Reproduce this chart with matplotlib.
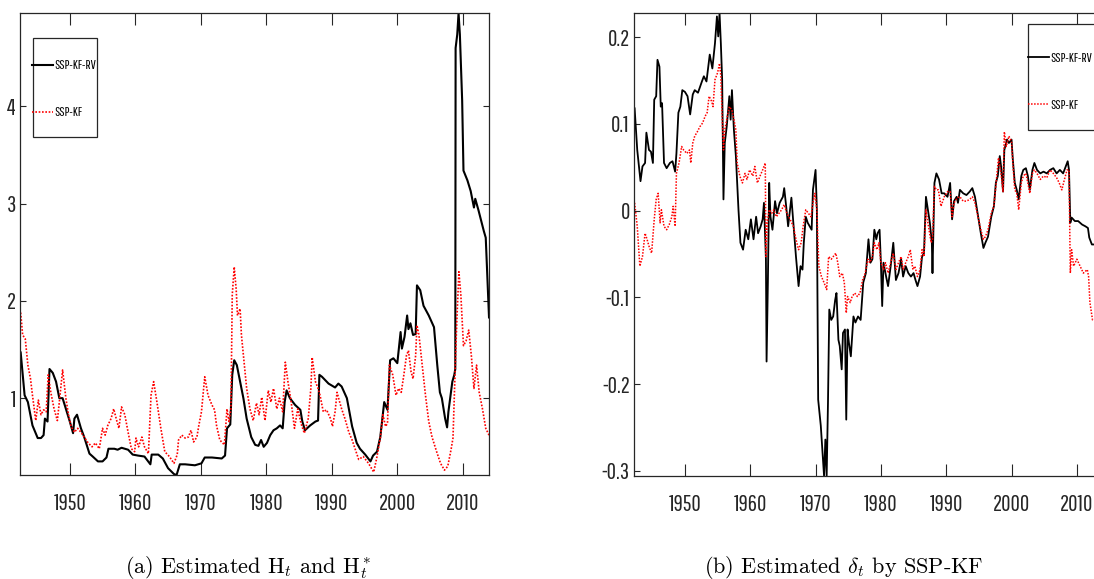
import numpy as np
import matplotlib
matplotlib.use("Agg")
import matplotlib.pyplot as plt
from matplotlib import font_manager
from matplotlib.patches import Rectangle

# narrow sans for ticks and legend (first one that is installed)
installed = {f.name for f in font_manager.fontManager.ttflist}
narrow_choices = ['Pathway Gothic One', 'Sofia Sans Extra Condensed', 'Saira Extra Condensed',
                  'Roboto Condensed', 'Liberation Sans Narrow', 'Arial Narrow',
                  'IBM Plex Sans Condensed']
NARROW = [n for n in narrow_choices if n in installed][:1] + ['DejaVu Sans']

plt.rcParams['font.family'] = NARROW
plt.rcParams['mathtext.fontset'] = 'cm'

# ---- panel (a): estimated H_t (SSP-KF-RV) and H_t* (SSP-KF) ----
years_h_rv = [1942.5, 1943.1, 1943.6, 1944.3, 1945.1, 1945.6, 1946.0, 1946.2, 1946.6, 1946.9,
              1947.4, 1947.9, 1948.4, 1948.9, 1949.4, 1950.0, 1950.5, 1950.7, 1951.1, 1951.7,
              1952.2, 1953.0, 1953.5, 1954.3, 1955.0, 1955.6, 1955.9, 1956.8, 1957.3, 1957.9,
              1958.9, 1959.6, 1960.4, 1961.4, 1962.3, 1962.5, 1963.5, 1964.2, 1965.0, 1965.9,
              1966.3, 1966.8, 1967.6, 1969.1, 1970.1, 1970.6, 1971.7, 1973.2, 1973.7, 1974.0,
              1974.5, 1974.8, 1975.1, 1975.5, 1976.0, 1976.5, 1977.0, 1977.7, 1978.3, 1978.8,
              1979.2, 1979.6, 1980.1, 1980.6, 1981.1, 1981.6, 1982.1, 1982.5, 1982.8, 1983.1,
              1983.6, 1984.4, 1985.2, 1985.5, 1985.9, 1986.7, 1987.5, 1987.9, 1988.1, 1988.5,
              1989.5, 1990.5, 1991.0, 1991.5, 1992.3, 1993.1, 1993.8, 1994.3, 1995.1, 1995.9,
              1996.3, 1996.9, 1997.4, 1998.0, 1998.5, 1998.9, 1999.4, 2000.0, 2000.5, 2000.7,
              2001.1, 2001.5, 2001.7, 2002.0, 2002.4, 2002.8, 2003.0, 2003.5, 2004.0, 2004.8,
              2005.6, 2006.1, 2006.5, 2006.8, 2007.3, 2007.6, 2007.8, 2008.4, 2008.7, 2008.85,
              2008.9, 2009.15, 2009.35, 2009.55, 2009.9, 2010.1, 2010.7, 2011.2, 2011.7, 2011.9,
              2012.4, 2013.2, 2013.5, 2014.0]
h_rv = [1.47, 1.03, 0.96, 0.72, 0.59, 0.59, 0.62, 0.79, 0.76, 1.30,
        1.26, 1.17, 1.00, 1.00, 0.89, 0.76, 0.64, 0.79, 0.83, 0.69,
        0.60, 0.43, 0.40, 0.35, 0.35, 0.39, 0.48, 0.48, 0.47, 0.49,
        0.47, 0.42, 0.41, 0.40, 0.32, 0.42, 0.42, 0.38, 0.28, 0.22,
        0.21, 0.32, 0.32, 0.31, 0.33, 0.39, 0.39, 0.38, 0.41, 0.69,
        0.73, 1.24, 1.39, 1.34, 1.17, 1.00, 0.79, 0.60, 0.52, 0.51,
        0.57, 0.50, 0.54, 0.62, 0.67, 0.69, 0.72, 0.69, 0.96, 1.08,
        1.00, 0.93, 0.88, 0.76, 0.67, 0.72, 0.76, 0.77, 1.24, 1.22,
        1.15, 1.11, 1.15, 1.12, 1.00, 0.71, 0.54, 0.48, 0.42, 0.35,
        0.41, 0.45, 0.60, 0.96, 0.88, 1.39, 1.41, 1.36, 1.68, 1.51,
        1.63, 1.85, 1.71, 1.77, 1.65, 1.66, 2.16, 2.11, 1.95, 1.85,
        1.73, 1.34, 1.06, 1.00, 0.79, 0.70, 0.86, 1.17, 1.24, 1.30,
        4.60, 4.74, 4.96, 4.74, 4.06, 3.34, 3.24, 3.13, 2.96, 3.05,
        2.93, 2.72, 2.65, 1.83]

years_h_kf = [1942.5, 1942.8, 1943.2, 1943.6, 1944.0, 1944.3, 1944.8, 1945.2, 1945.6, 1946.0,
              1946.4, 1946.7, 1947.1, 1947.6, 1948.1, 1948.4, 1948.9, 1949.4, 1949.8, 1950.2,
              1950.7, 1951.2, 1951.7, 1952.2, 1952.8, 1953.4, 1953.9, 1954.5, 1955.0, 1955.4,
              1955.8, 1956.3, 1956.7, 1957.2, 1957.5, 1957.9, 1958.4, 1958.9, 1959.4, 1959.9,
              1960.1, 1960.5, 1961.0, 1961.4, 1962.0, 1962.4, 1962.8, 1963.3, 1963.9, 1964.5,
              1965.2, 1965.9, 1966.4, 1966.6, 1967.1, 1967.6, 1968.1, 1968.5, 1968.9, 1969.4,
              1969.7, 1970.1, 1970.6, 1971.1, 1971.7, 1972.1, 1972.4, 1972.9, 1973.6, 1974.0,
              1974.3, 1974.6, 1974.8, 1975.1, 1975.4, 1975.6, 1976.0, 1976.2, 1976.6, 1977.0,
              1977.5, 1978.0, 1978.5, 1978.9, 1979.3, 1979.8, 1980.3, 1980.7, 1981.1, 1981.6,
              1982.0, 1982.5, 1982.9, 1983.3, 1983.8, 1984.3, 1984.8, 1985.3, 1985.8, 1986.4,
              1986.8, 1987.0, 1987.5, 1987.9, 1988.2, 1988.7, 1989.2, 1989.8, 1990.1, 1990.5,
              1990.8, 1991.2, 1991.5, 1992.0, 1992.6, 1993.1, 1993.6, 1994.1, 1994.8, 1995.6,
              1996.4, 1996.9, 1997.4, 1997.8, 1998.2, 1998.5, 1998.8, 1999.3, 1999.8, 2000.2,
              2000.6, 2001.0, 2001.4, 2001.7, 2002.1, 2002.4, 2002.8, 2003.0, 2003.3, 2003.8,
              2004.3, 2004.8, 2005.3, 2006.0, 2006.6, 2007.2, 2007.7, 2008.2, 2008.5, 2008.9,
              2009.1, 2009.4, 2009.7, 2010.1, 2010.5, 2010.9, 2011.3, 2011.7, 2012.1, 2012.5,
              2013.0, 2013.5, 2014.0]
h_kf = [1.88, 1.65, 1.61, 1.34, 1.20, 1.03, 0.77, 0.98, 0.83, 0.88,
        0.86, 1.24, 1.06, 0.89, 0.77, 0.96, 1.29, 1.00, 0.83, 0.71,
        0.65, 0.69, 0.65, 0.60, 0.54, 0.50, 0.54, 0.48, 0.69, 0.62,
        0.72, 0.79, 0.89, 0.76, 0.69, 0.91, 0.83, 0.65, 0.48, 0.45,
        0.59, 0.50, 0.60, 0.50, 0.43, 1.03, 1.17, 0.96, 0.69, 0.45,
        0.40, 0.33, 0.42, 0.57, 0.62, 0.59, 0.60, 0.67, 0.55, 0.60,
        0.72, 0.86, 1.22, 1.03, 0.93, 0.88, 0.72, 0.57, 0.52, 0.89,
        0.76, 0.89, 2.06, 2.35, 2.12, 1.85, 1.92, 1.65, 1.37, 1.10,
        0.89, 0.77, 0.95, 0.83, 1.01, 0.77, 1.08, 0.96, 1.10, 0.89,
        1.00, 0.86, 1.37, 1.17, 0.96, 0.69, 0.89, 0.74, 0.64, 0.79,
        1.10, 1.42, 1.17, 1.10, 1.03, 0.86, 0.88, 0.79, 0.71, 0.86,
        1.06, 0.96, 0.89, 0.79, 0.65, 0.57, 0.47, 0.37, 0.40, 0.33,
        0.24, 0.40, 0.59, 0.83, 0.71, 0.74, 1.34, 1.24, 1.03, 1.10,
        1.06, 1.24, 1.44, 1.49, 1.27, 1.20, 1.44, 1.75, 1.65, 1.34,
        1.03, 0.76, 0.60, 0.45, 0.33, 0.26, 0.30, 0.47, 0.59, 1.44,
        1.82, 2.30, 2.06, 1.54, 1.59, 1.70, 1.44, 1.10, 1.34, 1.06,
        0.89, 0.69, 0.62]

# ---- panel (b): estimated delta_t ----
years_d_rv = [1942.3, 1942.7, 1943.2, 1943.5, 1943.9, 1944.1, 1944.5, 1944.8, 1945.1, 1945.3,
              1945.6, 1945.8, 1946.1, 1946.3, 1946.5, 1946.8, 1947.2, 1947.7, 1948.1, 1948.5,
              1948.7, 1949.0, 1949.3, 1949.6, 1950.0, 1950.4, 1950.8, 1951.2, 1951.5, 1952.0,
              1952.6, 1952.9, 1953.3, 1953.8, 1954.2, 1954.6, 1954.9, 1955.1, 1955.3, 1955.5,
              1955.7, 1955.9, 1956.1, 1956.4, 1956.8, 1957.0, 1957.2, 1957.5, 1957.8, 1958.2,
              1958.5, 1958.9, 1959.3, 1959.7, 1960.1, 1960.5, 1960.9, 1961.2, 1961.6, 1961.9,
              1962.1, 1962.4, 1962.5, 1962.7, 1962.9, 1963.1, 1963.4, 1963.8, 1964.1, 1964.5,
              1965.0, 1965.2, 1965.5, 1965.8, 1966.3, 1966.6, 1967.0, 1967.4, 1967.7, 1968.0,
              1968.2, 1968.5, 1968.8, 1969.1, 1969.4, 1969.6, 1970.0, 1970.2, 1970.4, 1970.8,
              1971.2, 1971.3, 1971.5, 1971.7, 1971.9, 1972.1, 1972.4, 1972.7, 1973.0, 1973.2,
              1973.5, 1973.7, 1974.0, 1974.2, 1974.5, 1974.7, 1974.9, 1975.1, 1975.4, 1975.8,
              1976.1, 1976.5, 1976.9, 1977.3, 1977.7, 1978.1, 1978.4, 1978.7, 1979.0, 1979.3,
              1979.5, 1979.8, 1980.0, 1980.2, 1980.4, 1980.8, 1981.1, 1981.5, 1981.9, 1982.3,
              1982.7, 1983.1, 1983.4, 1983.8, 1984.2, 1984.6, 1985.0, 1985.3, 1985.6, 1986.0,
              1986.3, 1986.6, 1986.9, 1987.2, 1987.5, 1987.8, 1987.9, 1988.2, 1988.5, 1988.9,
              1989.3, 1989.7, 1990.2, 1990.6, 1990.9, 1991.2, 1991.6, 1991.8, 1992.1, 1992.6,
              1993.1, 1993.6, 1994.0, 1994.4, 1994.9, 1995.3, 1995.7, 1996.0, 1996.4, 1996.9,
              1997.3, 1997.6, 1997.9, 1998.2, 1998.4, 1998.7, 1998.9, 1999.3, 1999.6, 2000.0,
              2000.2, 2000.5, 2000.8, 2001.1, 2001.5, 2001.8, 2002.2, 2002.5, 2002.8, 2003.2,
              2003.5, 2003.9, 2004.4, 2004.9, 2005.4, 2005.9, 2006.4, 2006.9, 2007.4, 2007.9,
              2008.3, 2008.6, 2008.8, 2009.0, 2009.2, 2009.7, 2010.2, 2010.8, 2011.3, 2011.7,
              2011.9, 2012.3, 2012.7]
delta_rv = [0.118, 0.070, 0.034, 0.051, 0.055, 0.090, 0.070, 0.068, 0.055, 0.128,
            0.132, 0.174, 0.166, 0.120, 0.124, 0.055, 0.049, 0.055, 0.057, 0.045,
            0.066, 0.113, 0.120, 0.139, 0.137, 0.132, 0.111, 0.134, 0.139, 0.136,
            0.149, 0.155, 0.149, 0.180, 0.164, 0.193, 0.224, 0.201, 0.228, 0.193,
            0.151, 0.013, 0.078, 0.097, 0.132, 0.105, 0.139, 0.093, 0.063, 0.001,
            -0.037, -0.045, -0.022, -0.033, -0.010, -0.033, -0.007, -0.026, -0.018, -0.010,
            0.009, -0.056, -0.174, -0.083, 0.032, -0.007, -0.022, 0.011, -0.003, 0.009,
            0.016, 0.026, 0.005, -0.018, 0.015, -0.014, -0.053, -0.087, -0.064, -0.068,
            -0.037, -0.007, -0.014, -0.018, -0.022, 0.024, 0.047, 0.001, -0.218, -0.248,
            -0.295, -0.306, -0.264, -0.306, -0.222, -0.114, -0.126, -0.122, -0.103, -0.095,
            -0.149, -0.156, -0.183, -0.141, -0.137, -0.241, -0.137, -0.152, -0.168, -0.122,
            -0.129, -0.122, -0.126, -0.083, -0.072, -0.033, -0.060, -0.056, -0.022, -0.033,
            -0.026, -0.022, -0.060, -0.110, -0.060, -0.076, -0.087, -0.064, -0.037, -0.080,
            -0.072, -0.056, -0.076, -0.064, -0.072, -0.076, -0.072, -0.080, -0.087, -0.076,
            -0.053, -0.049, 0.016, 0.001, -0.014, -0.037, -0.072, 0.032, 0.043, 0.036,
            0.020, 0.020, 0.016, 0.032, -0.010, 0.011, 0.016, 0.009, 0.024, 0.020,
            0.018, 0.022, 0.026, 0.016, -0.007, -0.026, -0.043, -0.037, -0.030, -0.007,
            0.005, 0.032, 0.040, 0.063, 0.051, 0.022, 0.070, 0.082, 0.078, 0.082,
            0.059, 0.032, 0.024, 0.013, 0.040, 0.047, 0.049, 0.040, 0.024, 0.047,
            0.055, 0.047, 0.043, 0.045, 0.043, 0.047, 0.049, 0.043, 0.047, 0.043,
            0.051, 0.057, 0.047, -0.014, -0.008, -0.012, -0.012, -0.016, -0.018, -0.020,
            -0.031, -0.039, -0.039]

years_d_kf = [1942.3, 1942.7, 1943.1, 1943.5, 1943.9, 1944.2, 1944.5, 1944.9, 1945.3, 1945.6,
              1945.9, 1946.2, 1946.4, 1946.8, 1947.2, 1947.6, 1948.0, 1948.2, 1948.5, 1948.7,
              1949.1, 1949.5, 1949.8, 1950.3, 1950.7, 1950.9, 1951.2, 1951.5, 1951.9, 1952.3,
              1952.7, 1953.1, 1953.4, 1953.7, 1954.1, 1954.3, 1954.6, 1955.0, 1955.3, 1955.5,
              1955.7, 1955.9, 1956.1, 1956.5, 1956.8, 1957.2, 1957.5, 1957.8, 1958.0, 1958.4,
              1958.8, 1959.2, 1959.5, 1959.9, 1960.4, 1960.7, 1961.1, 1961.5, 1961.9, 1962.3,
              1962.4, 1962.6, 1962.9, 1963.3, 1963.6, 1964.0, 1964.4, 1964.8, 1965.2, 1965.6,
              1966.1, 1966.6, 1967.0, 1967.4, 1967.8, 1968.1, 1968.5, 1968.9, 1969.3, 1969.6,
              1969.9, 1970.2, 1970.5, 1970.9, 1971.3, 1971.7, 1972.0, 1972.4, 1972.7, 1973.1,
              1973.4, 1973.7, 1974.1, 1974.4, 1974.7, 1974.9, 1975.3, 1975.6, 1976.0, 1976.4,
              1976.8, 1977.2, 1977.6, 1978.0, 1978.3, 1978.7, 1979.0, 1979.4, 1979.7, 1980.0,
              1980.4, 1980.7, 1981.1, 1981.5, 1981.9, 1982.3, 1982.7, 1983.1, 1983.4, 1983.8,
              1984.2, 1984.5, 1984.9, 1985.2, 1985.6, 1986.0, 1986.3, 1986.6, 1986.9, 1987.2,
              1987.7, 1987.9, 1988.2, 1988.5, 1988.8, 1989.2, 1989.7, 1990.2, 1990.6, 1990.9,
              1991.2, 1991.7, 1992.1, 1992.6, 1993.1, 1993.6, 1994.0, 1994.4, 1994.9, 1995.3,
              1995.7, 1996.0, 1996.4, 1996.9, 1997.3, 1997.6, 1998.0, 1998.4, 1998.7, 1998.9,
              1999.2, 1999.6, 2000.0, 2000.2, 2000.5, 2000.8, 2001.1, 2001.5, 2001.8, 2002.2,
              2002.5, 2002.8, 2003.2, 2003.5, 2003.9, 2004.4, 2004.9, 2005.4, 2005.9, 2006.4,
              2006.9, 2007.3, 2007.7, 2008.1, 2008.5, 2008.8, 2009.0, 2009.2, 2009.5, 2010.0,
              2010.5, 2011.0, 2011.6, 2011.8, 2012.0, 2012.4, 2012.7]
delta_kf = [0.009, -0.018, -0.064, -0.053, -0.026, -0.033, -0.041, -0.049, -0.010, 0.013,
            0.020, -0.014, 0.001, -0.018, -0.022, -0.016, -0.007, 0.005, -0.018, 0.043,
            0.055, 0.074, 0.070, 0.066, 0.070, 0.055, 0.078, 0.086, 0.091, 0.097,
            0.101, 0.109, 0.113, 0.132, 0.126, 0.120, 0.151, 0.159, 0.170, 0.155,
            0.109, 0.070, 0.093, 0.109, 0.120, 0.116, 0.105, 0.093, 0.055, 0.040,
            0.032, 0.043, 0.036, 0.047, 0.040, 0.051, 0.032, 0.040, 0.047, 0.055,
            -0.053, -0.014, 0.001, -0.003, 0.001, -0.007, -0.003, 0.001, 0.007, -0.003,
            -0.010, -0.018, -0.033, -0.045, -0.037, -0.018, 0.001, -0.003, -0.007, 0.009,
            0.020, 0.001, -0.064, -0.076, -0.083, -0.091, -0.053, -0.056, -0.053, -0.049,
            -0.060, -0.076, -0.072, -0.083, -0.118, -0.099, -0.106, -0.099, -0.095, -0.099,
            -0.095, -0.080, -0.072, -0.056, -0.060, -0.053, -0.037, -0.045, -0.037, -0.060,
            -0.068, -0.060, -0.072, -0.060, -0.049, -0.068, -0.060, -0.053, -0.068, -0.060,
            -0.053, -0.045, -0.068, -0.064, -0.076, -0.068, -0.045, -0.053, 0.001, -0.014,
            -0.037, -0.033, 0.028, 0.024, 0.024, 0.005, 0.016, 0.022, 0.022, -0.007,
            0.009, 0.015, 0.016, 0.011, 0.011, 0.013, 0.016, 0.009, -0.008, -0.022,
            -0.033, -0.030, -0.022, -0.003, 0.005, 0.028, 0.061, 0.043, 0.022, 0.091,
            0.074, 0.086, 0.080, 0.055, 0.024, 0.020, 0.001, 0.032, 0.040, 0.043,
            0.032, 0.020, 0.043, 0.047, 0.043, 0.036, 0.040, 0.038, 0.047, 0.043,
            0.038, 0.032, 0.024, 0.036, 0.047, 0.047, -0.072, -0.045, -0.064, -0.056,
            -0.064, -0.072, -0.068, -0.076, -0.106, -0.126, -0.126]

x_ticks = [1950, 1960, 1970, 1980, 1990, 2000, 2010]
h_ticks = [1, 2, 3, 4]
delta_ticks = [-0.3, -0.2, -0.1, 0, 0.1, 0.2]
delta_tick_labels = ['-0.3', '-0.2', '-0.1', '0', '0.1', '0.2']
series_labels = ['SSP-KF-RV', 'SSP-KF']
captions = [r"(a) Estimated H$_t$ and H$_t^*$", r"(b) Estimated $\delta_t$ by SSP-KF"]

AXIS_COLOR = '#262626'
RED_DOTS = (0, (1, 1))


def style_axes(ax):
    for side in ax.spines.values():
        side.set_color(AXIS_COLOR)
        side.set_linewidth(0.9)
    ax.tick_params(axis='x', direction='in', length=8.5, width=0.8, top=True, bottom=True,
                   pad=13, labelsize=16.5, color=AXIS_COLOR, labelcolor=AXIS_COLOR)
    ax.tick_params(axis='y', direction='in', length=4.3, width=0.8, left=True, right=True,
                   pad=3, labelsize=16.5, color=AXIS_COLOR, labelcolor=AXIS_COLOR)
    ax.set_xticks(x_ticks)
    ax.set_xticklabels([str(t) for t in x_ticks])


def boxed_legend(ax, center, box):
    ax.add_patch(Rectangle(box[:2], box[2], box[3], transform=ax.transAxes,
                           facecolor='white', edgecolor=AXIS_COLOR, lw=0.9, zorder=5))
    leg = ax.legend(series_labels, loc='center', bbox_to_anchor=center, frameon=False,
                    fontsize=9.5, handlelength=1.6, handletextpad=0.1, labelspacing=2.7)
    leg.set_zorder(6)


fig = plt.figure(figsize=(10.94, 5.79), dpi=100)
ax_a = fig.add_axes([0.0183, 0.1796, 0.4287, 0.7979])
ax_b = fig.add_axes([0.5795, 0.1779, 0.4287, 0.7997])

ax_a.plot(years_h_rv, h_rv, color='black', lw=1.5)
ax_a.plot(years_h_kf, h_kf, color='red', lw=1.2, linestyle=RED_DOTS)
ax_a.set_xlim(1942.4, 2014.0)
ax_a.set_ylim(0.21, 4.96)
style_axes(ax_a)
ax_a.set_yticks(h_ticks)
ax_a.set_yticklabels([str(t) for t in h_ticks])
boxed_legend(ax_a, (0.094, 0.835), (0.0277, 0.7316, 0.1365, 0.2143))

ax_b.plot(years_d_rv, delta_rv, color='black', lw=1.3)
ax_b.plot(years_d_kf, delta_kf, color='red', lw=1.1, linestyle=RED_DOTS)
ax_b.set_xlim(1942.2, 2014.0)
ax_b.set_ylim(-0.306, 0.228)
style_axes(ax_b)
ax_b.set_yticks(delta_ticks)
ax_b.set_yticklabels(delta_tick_labels)
boxed_legend(ax_b, (0.909, 0.852), (0.840, 0.747, 0.150, 0.229))

fig.text(0.227, 0.011, captions[0], family='cmr10', fontsize=16, ha='center')
fig.text(0.771, 0.011, captions[1], family='cmr10', fontsize=16, ha='center')

fig.savefig('out.png', dpi=100)
